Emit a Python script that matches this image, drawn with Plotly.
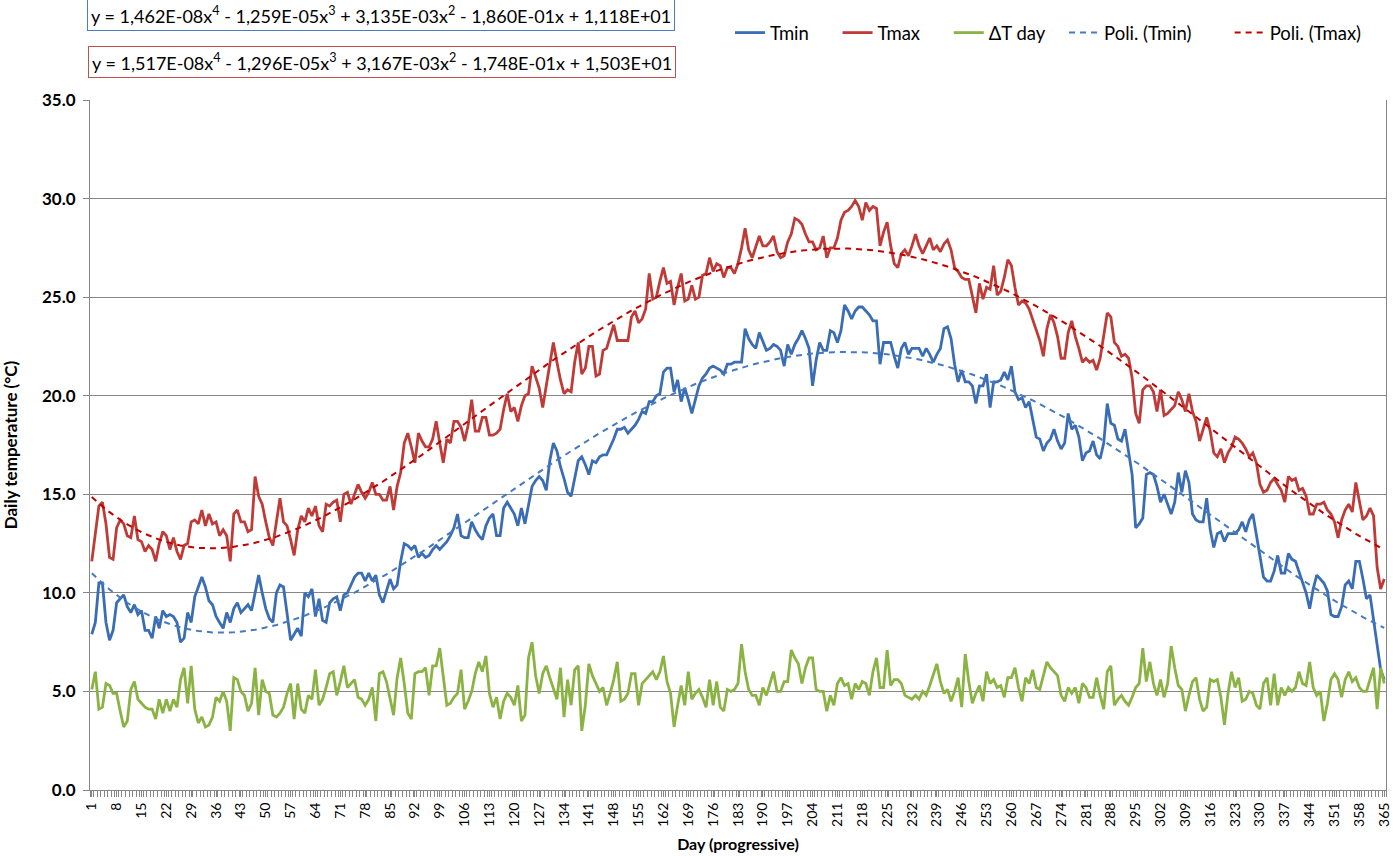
import numpy as np
import plotly.graph_objects as go

days = list(range(1, 366))

tmax = [
    11.6, 13.0, 14.4, 14.6, 13.5, 11.8, 11.7, 13.3, 13.7, 13.5,
    12.9, 12.8, 13.9, 12.7, 12.6, 12.1, 12.4, 12.2, 11.6, 12.5,
    13.1, 12.9, 12.2, 12.8, 12.1, 11.7, 12.4, 12.5, 13.6, 13.7,
    13.5, 14.2, 13.4, 14.0, 13.5, 13.6, 12.9, 13.2, 12.9, 11.6,
    14.0, 14.2, 13.6, 13.6, 13.1, 13.2, 15.9, 14.9, 14.5, 13.6,
    12.8, 12.4, 13.7, 14.8, 13.6, 13.4, 12.7, 11.9, 13.2, 13.9,
    13.6, 14.3, 13.9, 14.4, 13.4, 13.1, 14.5, 14.4, 14.6, 14.7,
    13.6, 15.0, 15.1, 14.5, 15.0, 15.5, 15.1, 14.8, 15.1, 15.6,
    15.0, 15.0, 14.7, 14.7, 15.4, 14.2, 15.4, 16.1, 17.6, 18.1,
    17.4, 16.6, 18.1, 17.7, 17.4, 17.4, 17.8, 18.7, 17.6, 16.6,
    17.8, 17.6, 18.7, 18.7, 18.4, 17.7, 18.5, 19.8, 18.2, 18.2,
    18.9, 18.9, 18.0, 18.0, 18.1, 18.3, 19.3, 20.1, 19.2, 19.4,
    18.7, 19.5, 20.0, 20.1, 21.5, 21.0, 20.4, 19.4, 20.5, 21.7,
    22.7, 21.7, 20.8, 20.1, 20.3, 20.2, 21.7, 22.7, 21.1, 21.4,
    22.5, 22.5, 21.0, 21.1, 22.3, 22.4, 23.0, 23.6, 22.8, 22.8,
    22.8, 22.8, 24.0, 24.3, 23.7, 23.9, 24.4, 26.2, 24.9, 25.0,
    25.8, 26.5, 25.7, 25.8, 24.6, 25.5, 26.2, 24.8, 24.9, 25.6,
    24.9, 25.0, 26.1, 26.2, 27.0, 26.3, 26.7, 26.6, 26.0, 26.5,
    26.5, 26.2, 26.7, 27.5, 28.5, 27.4, 27.0, 27.6, 28.1, 27.6,
    27.6, 27.8, 28.1, 27.3, 27.0, 27.1, 27.8, 28.2, 29.0, 28.9,
    28.7, 28.2, 27.8, 27.8, 27.4, 27.5, 28.1, 27.0, 27.5, 27.5,
    28.0, 28.9, 29.3, 29.4, 29.6, 29.9, 29.6, 28.9, 29.8, 29.4,
    29.6, 29.5, 27.6, 28.3, 28.8, 27.6, 26.7, 26.5, 27.2, 27.4,
    27.1, 27.6, 28.2, 27.6, 27.2, 27.6, 28.0, 27.4, 27.6, 27.3,
    27.7, 27.9, 27.4, 26.5, 26.3, 26.0, 25.9, 25.9, 25.0, 24.2,
    25.7, 24.9, 25.5, 25.4, 26.6, 25.1, 25.3, 26.0, 26.9, 26.6,
    25.5, 24.6, 24.8, 24.7, 24.4, 23.9, 23.4, 22.8, 22.0, 23.4,
    24.1, 23.7, 23.0, 21.9, 21.9, 23.2, 23.8, 23.0, 22.4, 21.7,
    21.9, 21.7, 21.8, 21.3, 21.9, 23.0, 24.2, 24.0, 22.7, 22.5,
    22.0, 22.1, 21.9, 20.9, 19.1, 18.6, 20.3, 20.5, 20.5, 20.2,
    19.2, 20.3, 19.0, 19.1, 19.3, 19.5, 20.2, 19.8, 19.2, 20.1,
    19.2, 18.7, 17.7, 18.3, 18.9, 18.2, 17.1, 16.9, 17.3, 16.6,
    17.1, 17.4, 17.9, 17.8, 17.6, 17.3, 16.9, 17.1, 16.6, 15.5,
    15.1, 15.2, 15.6, 15.8, 15.5, 15.2, 14.6, 15.9, 15.7, 15.8,
    15.2, 15.3, 14.9, 14.0, 14.0, 14.5, 14.5, 14.6, 14.2, 14.0,
    13.6, 12.8, 13.7, 14.2, 14.5, 14.1, 15.6, 14.7, 13.7, 13.9,
    14.3, 13.9, 11.3, 10.2, 10.7,
]

tmin = [
    7.9, 8.5, 10.5, 10.5, 8.5, 7.6, 8.1, 9.5, 9.7, 9.9,
    9.3, 9.0, 9.4, 8.9, 9.1, 8.1, 8.1, 7.7, 8.8, 8.2,
    9.1, 8.8, 8.9, 8.8, 8.5, 7.5, 7.7, 9.0, 8.5, 9.8,
    10.3, 10.8, 10.3, 9.6, 9.4, 8.8, 8.5, 8.2, 9.0, 8.5,
    9.2, 9.5, 9.0, 9.2, 9.4, 9.1, 10.0, 10.9, 10.0, 9.2,
    8.7, 8.5, 10.0, 10.4, 10.3, 9.0, 7.6, 7.9, 8.2, 7.8,
    10.0, 9.8, 10.2, 8.8, 9.7, 8.6, 8.5, 9.5, 9.7, 9.8,
    9.1, 9.9, 10.0, 10.4, 10.8, 11.0, 11.0, 10.6, 11.0, 10.6,
    10.9, 9.9, 9.5, 10.1, 10.7, 10.2, 10.4, 11.6, 12.5, 12.4,
    12.2, 12.4, 11.8, 12.0, 11.8, 11.9, 12.2, 12.4, 12.2, 12.4,
    12.6, 12.9, 13.3, 14.0, 12.9, 12.8, 12.8, 13.6, 13.2, 12.9,
    12.7, 13.4, 13.8, 14.0, 12.9, 12.9, 14.3, 14.6, 14.3, 14.0,
    13.4, 14.3, 13.5, 14.4, 15.4, 15.7, 15.9, 15.7, 15.2, 16.7,
    17.6, 17.2, 16.4, 15.8, 15.1, 14.9, 15.8, 16.7, 16.9, 16.5,
    16.0, 16.7, 16.6, 16.9, 17.0, 17.0, 17.4, 17.8, 18.3, 18.3,
    18.4, 18.1, 18.3, 18.5, 18.8, 19.2, 19.1, 19.7, 19.7, 20.0,
    20.1, 21.2, 21.4, 21.4, 20.2, 20.8, 19.7, 20.4, 19.8, 19.1,
    19.8, 20.5, 20.9, 21.1, 21.4, 21.5, 21.4, 21.3, 21.1, 21.6,
    21.6, 21.7, 21.7, 21.7, 23.4, 22.9, 22.6, 22.4, 23.2, 22.7,
    22.3, 22.4, 22.6, 22.5, 22.3, 21.5, 22.6, 22.1, 22.6, 22.9,
    23.3, 22.9, 22.4, 20.5, 21.8, 22.7, 22.3, 22.3, 23.3, 23.2,
    22.7, 23.3, 24.6, 24.3, 23.9, 24.3, 24.5, 24.5, 24.3, 24.1,
    23.8, 23.8, 21.6, 22.7, 22.7, 22.7, 22.0, 21.4, 22.4, 22.7,
    22.1, 22.4, 22.4, 22.4, 22.0, 22.4, 22.1, 21.7, 22.1, 22.4,
    23.4, 23.5, 22.9, 21.6, 20.7, 21.3, 20.7, 20.7, 20.5, 19.6,
    20.5, 20.5, 21.1, 19.4, 20.7, 20.7, 20.8, 21.2, 20.8, 21.5,
    20.2, 19.8, 19.9, 19.4, 19.7, 18.7, 17.9, 17.8, 17.2, 17.6,
    17.8, 18.3, 17.7, 17.3, 17.6, 19.1, 18.3, 18.5, 17.9, 16.7,
    17.1, 17.2, 17.7, 17.0, 16.8, 17.6, 19.6, 18.6, 18.5, 17.8,
    17.7, 18.3, 17.1, 16.0, 13.3, 13.5, 13.8, 16.0, 16.1, 16.0,
    15.4, 14.6, 15.0, 14.5, 14.0, 14.6, 16.1, 15.1, 16.2, 15.6,
    14.0, 13.7, 13.6, 13.6, 14.8, 13.2, 12.3, 13.0, 13.1, 12.6,
    13.0, 13.0, 13.0, 13.2, 13.6, 13.1, 13.7, 14.0, 13.0, 11.8,
    10.8, 10.6, 10.6, 11.1, 11.9, 11.0, 11.0, 12.0, 11.7, 11.6,
    11.1, 10.6, 10.0, 9.2, 10.2, 10.9, 10.7, 10.5, 10.1, 8.9,
    8.8, 8.8, 9.3, 10.4, 10.6, 10.2, 11.6, 11.6, 10.7, 9.7,
    9.9, 8.6, 7.3, 6.1, 5.6,
]

dt_day = [
    5.1, 6.0, 4.1, 4.2, 5.4, 5.3, 4.9, 4.9, 4.0, 3.2,
    3.5, 5.1, 5.5, 4.6, 4.4, 4.2, 4.1, 4.1, 3.6, 4.6,
    3.9, 4.6, 4.0, 4.6, 4.2, 5.6, 6.2, 4.4, 6.3, 4.1,
    3.4, 3.7, 3.2, 3.3, 3.7, 4.7, 4.5, 5.0, 4.5, 3.0,
    5.7, 5.6, 5.0, 4.8, 4.0, 4.4, 6.2, 3.8, 5.6, 5.0,
    4.9, 3.8, 3.7, 3.9, 4.2, 4.9, 5.4, 3.6, 5.4, 4.1,
    3.9, 4.8, 4.6, 6.1, 4.3, 4.6, 5.2, 5.9, 6.0, 4.8,
    5.5, 6.3, 5.2, 5.4, 5.6, 4.7, 4.6, 4.3, 4.6, 5.2,
    3.5, 5.9, 6.0, 5.5, 4.6, 3.8, 5.7, 6.7, 5.4, 3.9,
    3.6, 5.9, 6.0, 6.0, 6.2, 4.8, 6.3, 6.3, 7.2, 5.8,
    4.3, 4.4, 4.7, 4.9, 6.1, 4.1, 4.5, 5.0, 5.9, 6.5,
    6.0, 6.8, 4.9, 4.2, 4.7, 3.6, 4.5, 4.9, 4.7, 4.3,
    5.3, 3.5, 3.8, 6.7, 7.5, 5.8, 4.9, 5.9, 6.3, 5.7,
    5.1, 4.6, 6.2, 3.7, 5.6, 4.3, 6.1, 6.3, 3.0, 4.3,
    6.4, 5.8, 5.4, 5.0, 5.2, 4.3, 4.9, 5.6, 6.5, 4.5,
    4.6, 4.9, 5.9, 5.9, 4.3, 5.4, 5.6, 5.8, 6.0, 5.6,
    6.0, 6.8, 5.5, 4.9, 3.2, 4.3, 5.3, 4.3, 6.0, 4.6,
    4.9, 5.1, 4.7, 4.2, 5.6, 4.3, 5.5, 4.2, 4.0, 5.1,
    5.0, 5.1, 5.4, 7.4, 6.0, 5.1, 4.8, 4.8, 4.3, 5.2,
    4.8, 5.4, 6.0, 5.0, 5.0, 5.5, 5.5, 7.1, 6.7, 6.4,
    5.4, 6.2, 6.7, 6.7, 5.1, 5.0, 5.0, 4.0, 4.8, 4.3,
    5.4, 5.7, 5.3, 5.4, 4.6, 5.4, 5.1, 5.5, 5.4, 4.8,
    6.0, 6.7, 5.2, 5.2, 7.1, 5.3, 5.6, 5.6, 5.4, 4.8,
    4.7, 4.6, 4.8, 4.6, 5.0, 4.8, 5.3, 5.9, 6.4, 5.5,
    4.9, 5.1, 4.5, 5.0, 5.7, 4.2, 6.9, 5.5, 4.4, 4.9,
    5.3, 4.5, 6.0, 5.4, 5.6, 5.2, 5.3, 4.7, 5.7, 5.7,
    6.2, 5.2, 4.5, 5.7, 5.4, 6.1, 5.2, 5.1, 5.8, 6.5,
    6.2, 6.0, 5.8, 4.8, 4.5, 5.2, 4.9, 5.2, 4.4, 5.4,
    5.2, 4.7, 4.7, 5.7, 4.8, 4.1, 6.0, 6.3, 4.3, 4.6,
    4.8, 4.5, 4.3, 4.7, 5.2, 5.4, 7.2, 5.5, 6.5, 5.4,
    4.8, 5.6, 4.7, 5.4, 7.3, 6.2, 5.3, 5.1, 4.0, 4.8,
    5.5, 5.7, 4.6, 4.0, 4.2, 5.6, 5.5, 5.6, 4.7, 3.3,
    4.9, 6.0, 5.2, 5.7, 4.5, 4.6, 5.0, 4.9, 4.3, 4.1,
    5.4, 5.7, 4.3, 5.9, 4.3, 5.2, 4.8, 5.2, 5.0, 5.2,
    6.0, 5.4, 5.3, 6.5, 5.2, 4.8, 5.0, 3.5, 4.4, 5.6,
    5.9, 5.6, 4.7, 5.6, 6.0, 5.5, 5.7, 5.2, 5.0, 5.0,
    5.6, 6.2, 4.1, 6.2, 5.4,
]

# Trendline coefficients (highest power first), as printed on the chart
poly_tmin = [1.462e-08, -1.259e-05, 3.135e-03, -1.860e-01, 1.118e+01]
poly_tmax = [1.517e-08, -1.296e-05, 3.167e-03, -1.748e-01, 1.503e+01]
eq_tmin = "y = 1,462E-08x<sup>4</sup> - 1,259E-05x<sup>3</sup> + 3,135E-03x<sup>2</sup> - 1,860E-01x + 1,118E+01"
eq_tmax = "y = 1,517E-08x<sup>4</sup> - 1,296E-05x<sup>3</sup> + 3,167E-03x<sup>2</sup> - 1,748E-01x + 1,503E+01"

series_names = ["Tmin", "Tmax", "ΔT day", "Poli. (Tmin)", "Poli. (Tmax)"]
tick_days = list(range(1, 366, 7))
y_ticks = [0, 5, 10, 15, 20, 25, 30, 35]

n = min(len(days), len(tmin), len(tmax), len(dt_day))
x = np.array(days[:n], dtype=float)

C_TMIN = "#3A6DB3"
C_TMAX = "#BE3B37"
C_DT = "#8BB343"
C_PTMIN = "#4579C0"
C_PTMAX = "#C00000"
FONT = "Lato, 'Open Sans', sans-serif"
NB = "\u00a0"

fig = go.Figure()
fig.add_trace(go.Scatter(x=x, y=tmin[:n], mode="lines", name=series_names[0] + NB * 5,
                         line=dict(color=C_TMIN, width=2.8)))
fig.add_trace(go.Scatter(x=x, y=tmax[:n], mode="lines", name=series_names[1] + NB * 5,
                         line=dict(color=C_TMAX, width=2.8)))
fig.add_trace(go.Scatter(x=x, y=dt_day[:n], mode="lines", name=series_names[2] + NB * 3,
                         line=dict(color=C_DT, width=2.8)))
fig.add_trace(go.Scatter(x=x, y=np.polyval(poly_tmin, x), mode="lines", name=series_names[3] + NB * 7,
                         line=dict(color=C_PTMIN, width=2, dash="6px,5px")))
fig.add_trace(go.Scatter(x=x, y=np.polyval(poly_tmax, x), mode="lines", name=series_names[4],
                         line=dict(color=C_PTMAX, width=2, dash="6px,5px")))

fig.update_layout(
    width=1393, height=856,
    margin=dict(l=90, r=7, t=100, b=66, autoexpand=False),
    paper_bgcolor="white", plot_bgcolor="white",
    font=dict(family=FONT, color="black", size=14),
    showlegend=True,
    legend=dict(orientation="h", x=(730 - 90) / 1296, xanchor="left", y=1.097, yanchor="middle",
                font=dict(size=18.5, family=FONT), bgcolor="rgba(0,0,0,0)",
                itemwidth=30, tracegroupgap=0),
    annotations=[
        dict(text=eq_tmin, xref="paper", yref="paper", x=-0.0023, y=1.1225,
             xanchor="left", yanchor="middle", showarrow=False,
             font=dict(size=18, family=FONT, color="black"),
             bordercolor="#4A7DBF", borderwidth=1, borderpad=3, bgcolor="white"),
        dict(text=eq_tmax, xref="paper", yref="paper", x=-0.0015, y=1.0546,
             xanchor="left", yanchor="middle", showarrow=False,
             font=dict(size=18, family=FONT, color="black"),
             bordercolor="#C0504D", borderwidth=1, borderpad=3, bgcolor="white"),
    ],
)

fig.update_xaxes(
    range=[0.5, 365.5], tickmode="array", tickvals=tick_days,
    ticktext=[str(d) for d in tick_days], tickangle=-90,
    tickfont=dict(size=14, family=FONT),
    ticks="outside", ticklen=6, tickcolor="#868686",
    minor=dict(tick0=0.5, dtick=1, ticks="outside", ticklen=6, tickcolor="#868686", showgrid=False),
    showline=True, linecolor="#868686", linewidth=1,
    showgrid=False, zeroline=False, automargin=False,
    title=dict(text="<b>Day (progressive)</b>", font=dict(size=16, family=FONT), standoff=12),
)
fig.update_yaxes(
    range=[0, 35], tickmode="array", tickvals=y_ticks,
    ticktext=[f"<b>{v:.1f}</b>" for v in y_ticks],
    tickfont=dict(size=17, family=FONT), ticklabelstandoff=4,
    ticks="outside", ticklen=6, tickcolor="#868686",
    showline=True, linecolor="#868686", linewidth=1, mirror=True,
    showgrid=True, gridcolor="#868686", gridwidth=1, zeroline=False, automargin=False,
    title=dict(text="<b>Daily temperature (°C)</b>", font=dict(size=17, family=FONT), standoff=30),
)

fig.write_html(
    "out.html",
    config={"displayModeBar": False},
    post_script="document.body.style.margin='0';document.body.style.padding='0';",
)
